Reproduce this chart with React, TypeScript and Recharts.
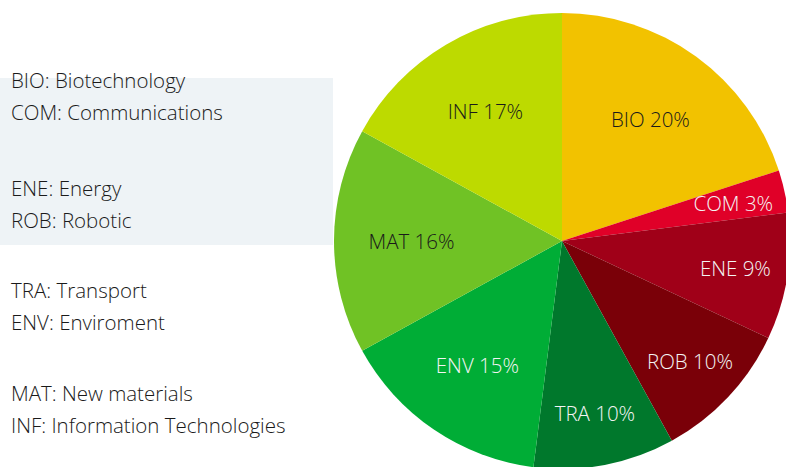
import React from 'react';
import { PieChart, Pie, Cell } from 'recharts';

// Sectors, clockwise from 12 o'clock
const codes = ['BIO', 'COM', 'ENE', 'ROB', 'TRA', 'ENV', 'MAT', 'INF'];
const shares = [20, 3, 9, 10, 10, 15, 16, 17];
const sliceColors = ['#F2C200', '#E00028', '#A00018', '#7A0008', '#00782C', '#00AD36', '#70C225', '#BDDA00'];
const labelColors = ['#1a1a1a', '#f4f4f4', '#f4f4f4', '#f4f4f4', '#f4f4f4', '#f4f4f4', '#1a1a1a', '#1a1a1a'];

// Legend text, in groups of two
const legendGroups = [
  ['BIO: Biotechnology', 'COM: Communications'],
  ['ENE: Energy', 'ROB: Robotic'],
  ['TRA: Transport', 'ENV: Enviroment'],
  ['MAT: New materials', 'INF: Information Technologies'],
];

const FONT = '"Open Sans", sans-serif';
const RAD = Math.PI / 180;

const data = codes.map((code, i) => ({ name: code, value: shares[i] }));

const renderLabel = (props: any) => {
  const { cx, cy, midAngle, outerRadius, index, value, name } = props;
  // smaller slices get their labels pushed further out
  const r = outerRadius * (value >= 15 ? 0.66 : 0.77);
  const x = cx + r * Math.cos(-midAngle * RAD);
  const y = cy + r * Math.sin(-midAngle * RAD);
  return (
    <text x={x} y={y} fill={labelColors[index]} textAnchor="middle" dominantBaseline="central"
      fontFamily={FONT} fontSize={20.5} fontWeight={300}>
      {`${name} ${value}%`}
    </text>
  );
};

const App: React.FC = () => {
  const groupTops = [64, 172, 274, 377];
  return (
    <div style={{ position: 'fixed', left: 0, top: 0, width: 786, height: 467, background: '#fff', overflow: 'hidden' }}>
      {/* light box behind the first two legend groups */}
      <div style={{ position: 'absolute', left: 0, top: 78, width: 333, height: 167, background: '#EEF3F6' }} />
      {legendGroups.map((group, g) => (
        <div key={g} style={{ position: 'absolute', left: 11, top: groupTops[g], fontFamily: FONT, fontSize: 20.5, fontWeight: 300, lineHeight: '32px', color: '#1a1a1a', whiteSpace: 'nowrap' }}>
          {group.map((line) => <div key={line}>{line}</div>)}
        </div>
      ))}
      <div style={{ position: 'absolute', left: 0, top: 0 }}>
        <PieChart width={786} height={467} margin={{ top: 0, right: 0, bottom: 0, left: 0 }}>
          <Pie
            data={data}
            dataKey="value"
            nameKey="name"
            cx={562}
            cy={241}
            outerRadius={228}
            startAngle={90}
            endAngle={-270}
            stroke="none"
            labelLine={false}
            label={renderLabel}
            isAnimationActive={false}
          >
            {data.map((entry, i) => (
              <Cell key={entry.name} fill={sliceColors[i]} />
            ))}
          </Pie>
        </PieChart>
      </div>
    </div>
  );
};

export default App;
